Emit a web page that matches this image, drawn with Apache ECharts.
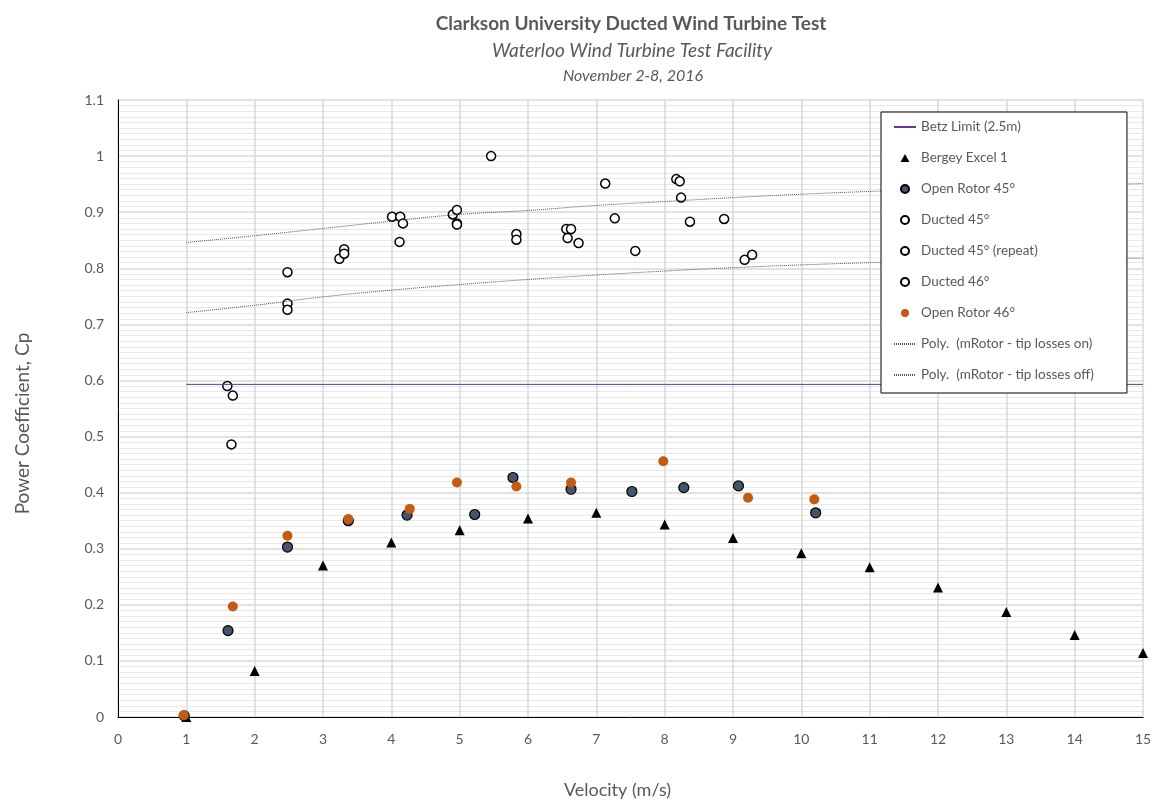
<!DOCTYPE html>
<html lang="en">
<head>
  <meta charset="UTF-8">
  <title>Ducted Wind Turbine Test</title>
  <script src="https://cdn.jsdelivr.net/npm/echarts@6/dist/echarts.min.js"></script>
  <style>
    body { margin: 0; background: #fff; }
    #main { width: 1156px; height: 804px; }
  </style>
</head>
<body>
  <div id="main"></div>
  <script type="text/javascript">
    // velocity ticks for trend lines / Bergey curve
    var vel = [1, 2, 3, 4, 5, 6, 7, 8, 9, 10, 11, 12, 13, 14, 15]
    var bergey = [0, 0.082, 0.27, 0.311, 0.333, 0.354, 0.364, 0.343, 0.319, 0.292, 0.267, 0.231, 0.187, 0.146, 0.114]
    var tipOn = [0.846, 0.858, 0.871, 0.884, 0.896, 0.903, 0.912, 0.919, 0.926, 0.932, 0.937, 0.941, 0.945, 0.948, 0.951]
    var tipOff = [0.721, 0.734, 0.749, 0.761, 0.771, 0.780, 0.788, 0.795, 0.801, 0.806, 0.810, 0.813, 0.815, 0.817, 0.818]
    var betz = [[1, 0.593], [15, 0.593]]

    var openRotor45 = [[0.97, 0.002], [1.61, 0.154], [2.48, 0.303], [3.37, 0.350], [4.23, 0.360], [5.22, 0.361],
      [5.78, 0.427], [6.63, 0.406], [7.52, 0.402], [8.28, 0.409], [9.08, 0.412], [10.21, 0.364]]
    var openRotor46 = [[0.96, 0.003], [1.68, 0.197], [2.48, 0.323], [3.37, 0.353], [4.27, 0.371], [4.96, 0.418],
      [5.83, 0.411], [6.63, 0.418], [7.98, 0.456], [9.22, 0.391], [10.19, 0.388]]
    var ducted45 = [[2.48, 0.793], [2.48, 0.737], [2.48, 0.726], [3.24, 0.817], [3.31, 0.834], [3.31, 0.826],
      [4.01, 0.892], [4.13, 0.892], [4.17, 0.880], [4.12, 0.847], [4.90, 0.896], [4.96, 0.904], [4.96, 0.880], [4.96, 0.878]]
    var ducted45r = [[5.46, 1.0], [5.83, 0.861], [5.83, 0.851], [6.56, 0.870], [6.63, 0.870], [6.58, 0.854],
      [6.74, 0.845], [7.13, 0.951], [7.27, 0.889], [7.57, 0.831]]
    var ducted46 = [[1.60, 0.590], [1.68, 0.573], [1.66, 0.486], [8.17, 0.959], [8.22, 0.955], [8.24, 0.926],
      [8.37, 0.883], [8.87, 0.888], [9.17, 0.815], [9.28, 0.824]]

    function pairs(xs, ys) {
      return xs.map(function (x, i) { return [x, ys[i]] })
    }

    var font = 'Lato, "Open Sans", sans-serif'
    var gray = '#595959'
    // legend entries for line series: hide the dot ECharts puts on the line
    var noDot = { color: 'rgba(0,0,0,0)', borderWidth: 0 }

    function ductedSeries(name, data) {
      return {
        name: name, type: 'scatter', data: data,
        symbol: 'circle', symbolSize: 9,
        itemStyle: { color: '#fff', borderColor: '#000', borderWidth: 1.5, opacity: 1 }
      }
    }

    var myChart = echarts.init(document.getElementById('main'))

    myChart.setOption({
      animation: false,
      backgroundColor: '#fff',
      textStyle: { fontFamily: font },
      title: [
        { text: 'Clarkson University Ducted Wind Turbine Test', left: 626, top: 9, textAlign: 'center',
          textStyle: { fontSize: 19, fontWeight: 'bold', color: gray, fontFamily: font } },
        { text: 'Waterloo Wind Turbine Test Facility', left: 627, top: 36, textAlign: 'center',
          textStyle: { fontSize: 19, fontStyle: 'italic', fontWeight: 'normal', color: gray, fontFamily: font } },
        { text: 'November 2-8, 2016', left: 628, top: 63, textAlign: 'center',
          textStyle: { fontSize: 16, fontStyle: 'italic', fontWeight: 'normal', color: gray, fontFamily: font } }
      ],
      grid: { left: 118, right: 13, top: 100, bottom: 86 },
      legend: {
        orient: 'vertical', left: 881, top: 112,
        padding: [8, 33, 11, 12], itemGap: 17, itemWidth: 22, itemHeight: 8,
        backgroundColor: '#fff', borderColor: '#000', borderWidth: 1,
        textStyle: { fontSize: 13.5, color: gray, fontFamily: font },
        data: [
          { name: 'Betz Limit (2.5m)', itemStyle: noDot },
          { name: 'Bergey Excel 1', icon: 'path://M5,0 L10,9 L0,9 Z' },
          { name: 'Open Rotor 45°' },
          { name: 'Ducted 45°' },
          { name: 'Ducted 45° (repeat)' },
          { name: 'Ducted 46°' },
          { name: 'Open Rotor 46°' },
          { name: 'Poly.  (mRotor - tip losses on)', itemStyle: noDot },
          { name: 'Poly.  (mRotor - tip losses off)', itemStyle: noDot }
        ]
      },
      xAxis: [{
        type: 'value', min: 0, max: 15, interval: 1,
        name: 'Velocity (m/s)', nameLocation: 'middle', nameGap: 64,
        nameTextStyle: { fontSize: 18, color: gray, fontFamily: font, padding: [0, 26, 0, 0] },
        axisLine: { lineStyle: { color: '#d9d9d9' } },
        axisTick: { show: false },
        axisLabel: { fontSize: 14, color: gray, margin: 15 },
        splitLine: { lineStyle: { color: '#d9d9d9', width: 1.5 } }
      }, {
        type: 'value', position: 'top', min: 0, max: 15,
        axisLine: { show: true, lineStyle: { color: '#000' } },
        axisTick: { show: false }, axisLabel: { show: false }, splitLine: { show: false }
      }],
      yAxis: [{
        type: 'value', min: 0, max: 1.1, interval: 0.1,
        name: 'Power Coefficient, Cp', nameLocation: 'middle', nameGap: 86,
        nameTextStyle: { fontSize: 19, color: gray, fontFamily: font, padding: [0, 30, 0, 0] },
        axisLine: { show: true, lineStyle: { color: '#d9d9d9' } },
        axisTick: { show: false },
        axisLabel: { fontSize: 14, color: gray, margin: 14 },
        splitLine: { lineStyle: { color: '#d9d9d9', width: 1.5 } },
        minorTick: { show: false, splitNumber: 10 },
        minorSplitLine: { show: true, lineStyle: { color: '#e8e8e8' } }
      }, {
        type: 'value', position: 'right', min: 0, max: 1.1,
        axisLine: { show: true, lineStyle: { color: '#000' } },
        axisTick: { show: false }, axisLabel: { show: false }, splitLine: { show: false }
      }],
      series: [
        {
          name: 'Betz Limit (2.5m)', type: 'line', data: betz, symbol: 'none',
          lineStyle: { color: '#7030a0', width: 1 }, itemStyle: { color: '#7030a0' }
        },
        {
          name: 'Poly.  (mRotor - tip losses on)', type: 'line', data: pairs(vel, tipOn), symbol: 'none', smooth: true,
          lineStyle: { color: '#555', width: 1, type: [1, 1] }, itemStyle: { color: '#555' }
        },
        {
          name: 'Poly.  (mRotor - tip losses off)', type: 'line', data: pairs(vel, tipOff), symbol: 'none', smooth: true,
          lineStyle: { color: '#555', width: 1, type: [1, 1] }, itemStyle: { color: '#555' }
        },
        {
          name: 'Bergey Excel 1', type: 'scatter', data: pairs(vel, bergey),
          symbol: 'triangle', symbolSize: 10, itemStyle: { color: '#000', opacity: 1 }
        },
        {
          name: 'Open Rotor 45°', type: 'scatter', data: openRotor45,
          symbol: 'circle', symbolSize: 10,
          itemStyle: { color: '#44546a', borderColor: '#000', borderWidth: 1.2, opacity: 1 }
        },
        ductedSeries('Ducted 45°', ducted45),
        ductedSeries('Ducted 45° (repeat)', ducted45r),
        ductedSeries('Ducted 46°', ducted46),
        {
          name: 'Open Rotor 46°', type: 'scatter', data: openRotor46,
          symbol: 'circle', symbolSize: 10, itemStyle: { color: '#c55a11', opacity: 1 }
        }
      ]
    })
  </script>
</body>
</html>
